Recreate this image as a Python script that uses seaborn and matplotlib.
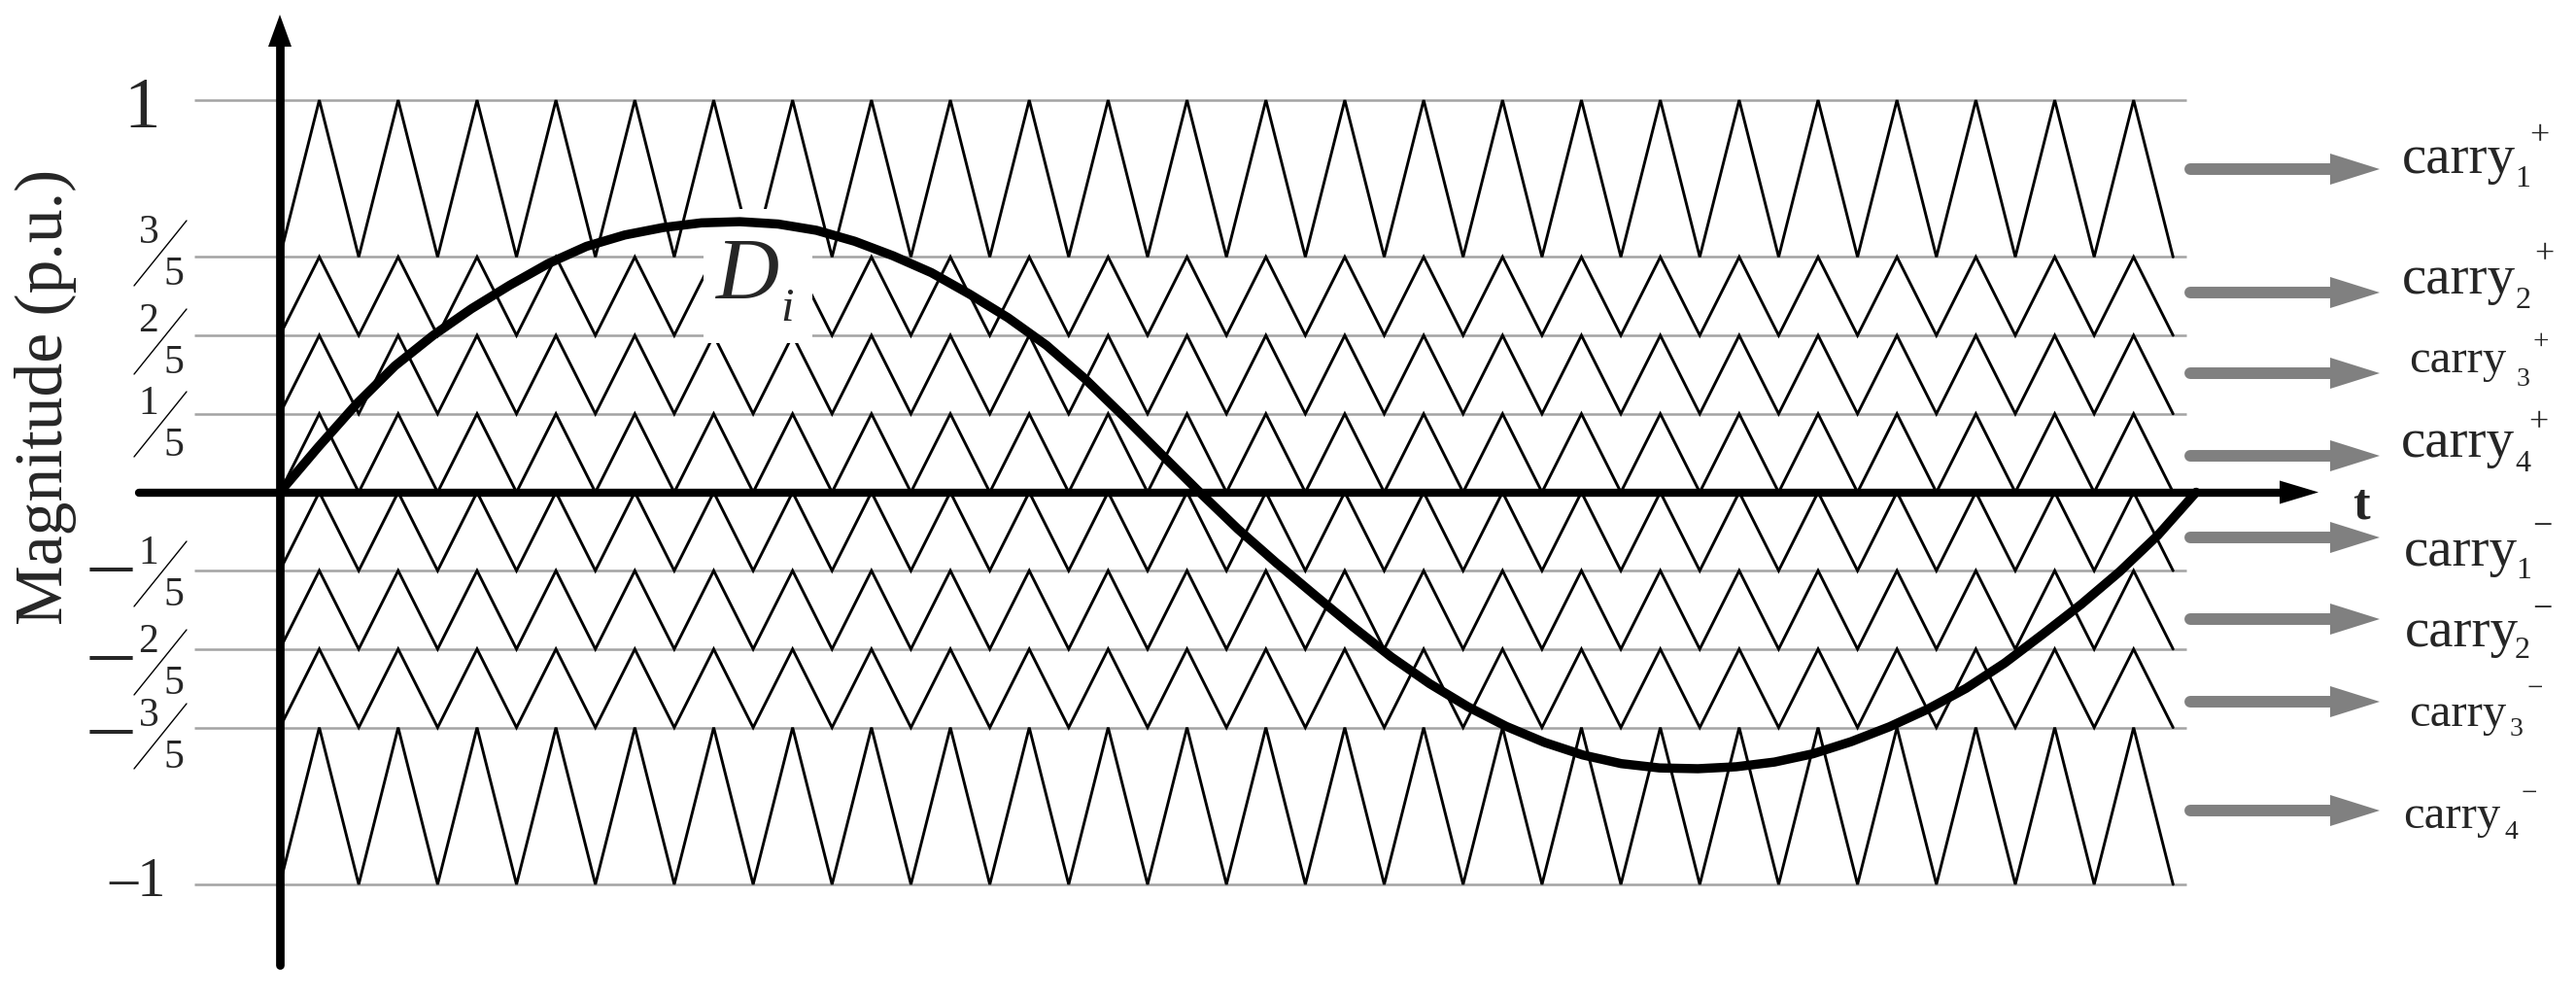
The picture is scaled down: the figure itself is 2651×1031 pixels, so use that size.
import numpy as np
import pandas as pd
import matplotlib
matplotlib.use("Agg")
import matplotlib.pyplot as plt
import seaborn as sns
from matplotlib.patches import Rectangle

# carrier bands (p.u.), top to bottom, and their names
band_edges = [1, 3 / 5, 2 / 5, 1 / 5, 0, -1 / 5, -2 / 5, -3 / 5, -1]
carrier_names = ["1+", "2+", "3+", "4+", "1-", "2-", "3-", "4-"]
n_carrier_periods = 24
carrier_end = 0.988          # carriers stop a bit before the end of the period

# modulating wave D_i (t in fundamental periods)
d_t = [0.00, 0.02, 0.04, 0.06, 0.08, 0.10, 0.12, 0.14, 0.16, 0.18,
       0.20, 0.22, 0.24, 0.26, 0.28, 0.30, 0.32, 0.34, 0.36, 0.38,
       0.40, 0.42, 0.44, 0.46, 0.48, 0.50, 0.52, 0.54, 0.56, 0.58,
       0.60, 0.62, 0.64, 0.66, 0.68, 0.70, 0.72, 0.74, 0.76, 0.78,
       0.80, 0.82, 0.84, 0.86, 0.88, 0.90, 0.92, 0.94, 0.96, 0.98, 1.00]
d_val = [0.000, 0.115, 0.225, 0.322, 0.400, 0.468, 0.528, 0.583, 0.627, 0.656,
         0.675, 0.687, 0.690, 0.684, 0.668, 0.640, 0.603, 0.560, 0.505, 0.445,
         0.375, 0.290, 0.195, 0.097, 0.000, -0.094, -0.180, -0.262, -0.343, -0.420,
         -0.488, -0.547, -0.597, -0.638, -0.670, -0.692, -0.703, -0.705, -0.700, -0.688,
         -0.667, -0.636, -0.598, -0.553, -0.500, -0.436, -0.362, -0.286, -0.203, -0.110, 0.000]

# y tick labels (numerator, denominator, negative)
frac_ticks = [(3, 5, False), (2, 5, False), (1, 5, False),
              (1, 5, True), (2, 5, True), (3, 5, True)]

# ---- pixel <-> data mapping (axes fill the whole figure) ----
W, H = 2651, 1031
X0, SX = 288, 1972       # t = 0 at x=288 px, 1972 px per period
Y0, SY = 506.5, 403.5    # v = 0 at y=506.5 px, 403.5 px per p.u.


def px(x):
    return (x - X0) / SX


def py(y):
    return (Y0 - y) / SY


sns.set_theme(style="white")
plt.rcParams["font.family"] = ["Liberation Serif", "DejaVu Serif"]

fig = plt.figure(figsize=(W / 100, H / 100), dpi=100)
ax = fig.add_axes([0, 0, 1, 1])
ax.set_xlim(px(0), px(W))
ax.set_ylim(py(H), py(0))
ax.axis("off")

# ---- grey level lines ----
levels = [v for v in band_edges if v != 0]
ax.hlines(levels, px(200), px(2250), colors="#a3a3a3", lw=1.8, zorder=1)

# ---- triangular carriers ----
rows = []
k = np.arange(2 * n_carrier_periods + 1)
tt = np.linspace(0, carrier_end, len(k))
for i, name in enumerate(carrier_names):
    hi, lo = band_edges[i], band_edges[i + 1]
    vv = np.where(k % 2 == 0, lo, hi)
    rows.append(pd.DataFrame({"t": tt, "v": vv, "carrier": name}))
carriers = pd.concat(rows, ignore_index=True)
sns.lineplot(data=carriers, x="t", y="v", units="carrier", estimator=None,
             sort=False, color="black", lw=2.1, ax=ax, zorder=2,
             solid_joinstyle="miter")

# white patch behind the D_i label
ax.add_patch(Rectangle((px(724), py(353)), px(836) - px(724), py(215) - py(353),
                       facecolor="white", edgecolor="none", zorder=3))

# ---- modulating wave ----
sns.lineplot(x=d_t, y=d_val, sort=False, estimator=None, color="black", lw=6.8,
             ax=ax, zorder=5, solid_joinstyle="round", solid_capstyle="round")

ax.text(px(736), py(308), "D", fontsize=65, style="italic", ha="left",
        va="baseline", zorder=6)
ax.text(px(803), py(330), "i", fontsize=35, style="italic", ha="left",
        va="baseline", zorder=6)

# ---- axes with arrow heads ----
ax.plot([px(143), px(2350)], [0, 0], color="black", lw=6, solid_capstyle="round", zorder=6)
ax.fill([px(2346), px(2346), px(2386)], [py(Y0 - 12), py(Y0 + 12), 0],
        color="black", lw=0, zorder=6)
ax.plot([0, 0], [py(993), py(46)], color="black", lw=6.3, solid_capstyle="round", zorder=6)
ax.fill([px(X0 - 12), px(X0 + 12), 0], [py(48), py(48), py(15)],
        color="black", lw=0, zorder=6)
ax.text(px(2430), py(533), "t", fontsize=38, fontweight="bold", ha="center", va="baseline")

# ---- y tick labels ----
ax.text(px(146), py(131), "1", fontsize=54, ha="center", va="baseline")
ax.text(px(142), py(922), "\u20131", fontsize=42, ha="center", va="baseline")

frac_centers = [260, 351, 436, 590, 681, 757]
for (num, den, neg), c in zip(frac_ticks, frac_centers):
    ax.text(px(153), py(c - 10), str(num), fontsize=30, ha="center", va="baseline")
    ax.text(px(179), py(c + 33), str(den), fontsize=30, ha="center", va="baseline")
    ax.plot([px(138), px(192)], [py(c + 34), py(c - 33)], color="black", lw=1.0)
    if neg:
        ax.text(px(93), py(c + 16), "\u2013", fontsize=62,
                ha="left", va="baseline")

ax.text(px(47), py(408), "Magnitude (p.u.)", fontsize=50, rotation=90,
        ha="center", va="center")

# ---- carrier labels with grey arrows ----
arrow_y = [174, 301, 384, 469, 553, 637, 722, 834]
label_layout = [
    # carry_left, baseline, size, sub_left, sub_base, sub_size, sup_left, sup_mid, sup_size
    (2472, 178, 41, 2588, 192, 23, 2603, 140, 26),
    (2472, 302, 41, 2589, 317, 23, 2608, 262, 26),
    (2479, 383, 35, 2590, 397, 20, 2606, 352, 21),
    (2471, 470, 41, 2588, 485, 23, 2602, 435, 26),
    (2474, 582, 41, 2589, 595, 23, 2606, 542, 26),
    (2475, 665, 41, 2588, 677, 23, 2606, 627, 26),
    (2479, 747, 35, 2583, 757, 20, 2601, 709, 21),
    (2473, 852, 35, 2578, 863, 20, 2595, 817, 21),
]
for name, ya, lay in zip(carrier_names, arrow_y, label_layout):
    cl, cb, cs, sl, sb, ss, pl, pm, ps = lay
    ax.plot([px(2254), px(2405)], [py(ya), py(ya)], color="#808080", lw=8.6,
            solid_capstyle="round")
    ax.fill([px(2398), px(2398), px(2449)], [py(ya - 16), py(ya + 16), py(ya)],
            color="#808080", lw=0)
    ax.text(px(cl), py(cb), "carry", fontsize=cs, ha="left", va="baseline")
    ax.text(px(sl), py(sb), name[0], fontsize=ss, ha="left", va="baseline")
    sign = "+" if name[1] == "+" else "\u2212"
    ax.text(px(pl), py(pm + ps * 100 / 72 * 0.25), sign, fontsize=ps,
            ha="left", va="baseline")

fig.savefig("out.png", dpi=100, facecolor="white")
plt.close(fig)
